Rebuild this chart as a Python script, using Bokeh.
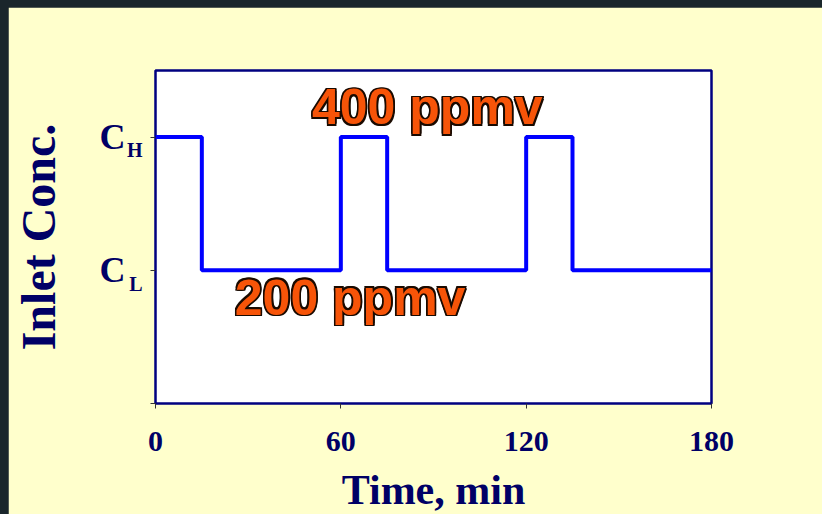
from bokeh.plotting import figure
from bokeh.models import Label, FixedTicker, Column, LinearAxis
from bokeh.embed import file_html
from bokeh.resources import INLINE

# ---- data ----
time_min = [0, 15, 60, 75, 120, 135, 180]
inlet_ppmv = [400, 200, 400, 200, 400, 200, 200]
x_ticks = [0, 60, 120, 180]
y_ticks = [0, 200, 400]
C_L = 200
C_H = 400
y_main_labels = {0: "", C_L: "C", C_H: "C"}
y_sub_labels = {0: "", C_L: " \nL", C_H: " \nH"}
high_text = "400 ppmv"
low_text = "200 ppmv"

NAVY = "#000066"
SERIF = "Liberation Serif"
SANS = "Liberation Sans"

p = figure(frame_width=556, frame_height=333,
           x_range=(0, 180), y_range=(0, 500),
           min_border_left=147, min_border_right=111,
           min_border_top=63, min_border_bottom=111,
           output_backend="svg", toolbar_location=None,
           background_fill_color="white", border_fill_color="#FFFFCC")
p.margin = (7, 0, 0, 8)

p.step(time_min, inlet_ppmv, mode="after", line_color="#0000FF", line_width=4)

p.outline_line_color = "#000080"
p.outline_line_width = 2.5
p.xgrid.visible = False
p.ygrid.visible = False

# x axis
xa = p.xaxis[0]
xa.ticker = FixedTicker(ticks=x_ticks)
xa.axis_line_color = None
xa.major_tick_line_color = "#333333"
xa.major_tick_out = 5
xa.major_tick_in = 0
xa.minor_tick_line_color = None
xa.major_label_text_font = SERIF
xa.major_label_text_font_style = "bold"
xa.major_label_text_font_size = "30px"
xa.major_label_text_color = NAVY
xa.major_label_standoff = 23
xa.axis_label = "Time, min"
xa.axis_label_text_font = SERIF
xa.axis_label_text_font_style = "bold"
xa.axis_label_text_font_size = "42px"
xa.axis_label_text_color = NAVY
xa.axis_label_standoff = 13

# inner y axis: tick marks + subscripts H / L
ya = p.yaxis[0]
ya.ticker = FixedTicker(ticks=y_ticks)
ya.axis_line_color = None
ya.major_tick_line_color = "#333333"
ya.major_tick_out = 5
ya.major_tick_in = 0
ya.minor_tick_line_color = None
ya.major_label_overrides = y_sub_labels
ya.major_label_text_font = SERIF
ya.major_label_text_font_style = "bold"
ya.major_label_text_font_size = "20px"
ya.major_label_text_color = NAVY
ya.major_label_standoff = 8

# outer y axis: "C" labels + axis title
yb = LinearAxis(ticker=FixedTicker(ticks=y_ticks))
yb.axis_line_color = None
yb.major_tick_line_color = None
yb.major_tick_out = 0
yb.major_tick_in = 0
yb.minor_tick_line_color = None
yb.major_label_overrides = y_main_labels
yb.major_label_text_font = SERIF
yb.major_label_text_font_style = "bold"
yb.major_label_text_font_size = "36px"
yb.major_label_text_color = NAVY
yb.major_label_standoff = -2
yb.axis_label = "Inlet Conc."
yb.axis_label_text_font = SERIF
yb.axis_label_text_font_style = "bold"
yb.axis_label_text_font_size = "48px"
yb.axis_label_text_color = NAVY
yb.axis_label_standoff = 32
p.add_layout(yb, "left")

# orange outlined annotations
def outlined(txt, x, y):
    d = 1.6
    for dx, dy in ((-d, 0), (d, 0), (0, -d), (0, d), (-d, -d), (d, d), (-d, d), (d, -d)):
        p.add_layout(Label(x=x, y=y, x_offset=dx, y_offset=dy, text=txt,
                           text_align="center", text_baseline="alphabetic",
                           text_font=SANS, text_font_style="bold",
                           text_font_size="50px", text_color="#1a0a00"))
    p.add_layout(Label(x=x, y=y, text=txt,
                       text_align="center", text_baseline="alphabetic",
                       text_font=SANS, text_font_style="bold",
                       text_font_size="50px", text_color="#F75408"))

outlined(high_text, 88, 445)
outlined(low_text, 63, 159)

layout = Column(children=[p], styles={"background-color": "#1a262b"})

open("out.html", "w").write(file_html(layout, INLINE))
